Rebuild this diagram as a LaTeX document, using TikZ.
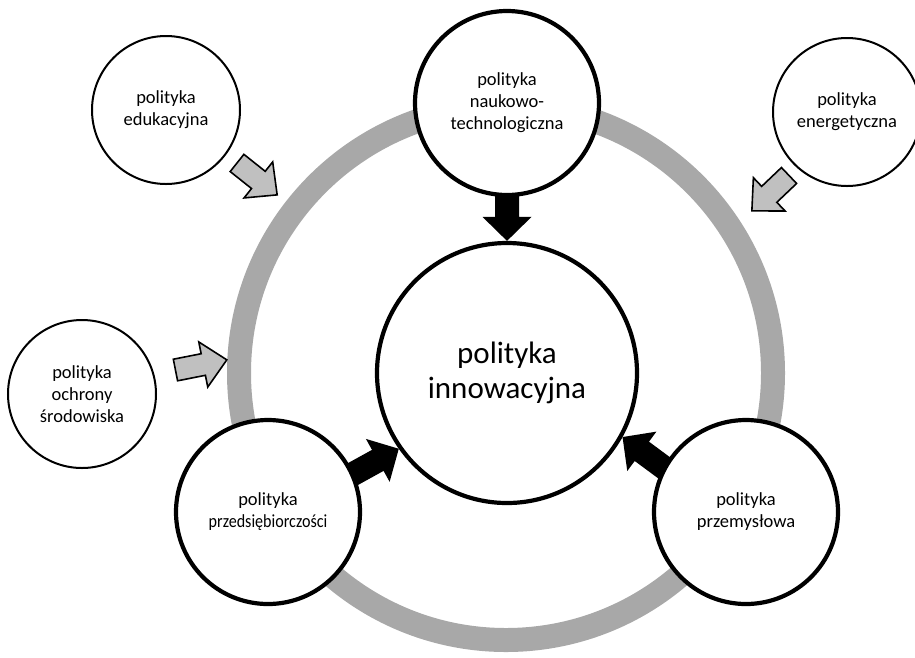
\documentclass[tikz,border=0pt]{standalone}
\usepackage{fontspec}
\setmainfont{Carlito}
\usepackage{graphicx}
\usetikzlibrary{calc,backgrounds}
\definecolor{ringgray}{RGB}{168,168,168}
\definecolor{arrowgray}{RGB}{192,192,192}
% block arrow: [style]{from}{to}{half shaft}{half head}
\newcommand{\blockarrow}[5][]{%
  \path[#1] let \p1=($(#3)-(#2)$), \n1={atan2(\y1,\x1)}, \n2={veclen(\x1,\y1)-24pt} in
    ($(#2)+(\n1+90:#4)$) -- ($(#2)+(\n1:\n2)+(\n1+90:#4)$)
    -- ($(#2)+(\n1:\n2)+(\n1+90:#5)$) -- (#3)
    -- ($(#2)+(\n1:\n2)+(\n1-90:#5)$) -- ($(#2)+(\n1:\n2)+(\n1-90:#4)$)
    -- ($(#2)+(\n1-90:#4)$) -- cycle;}

\begin{document}
\begin{tikzpicture}[x=1pt, y=1pt,
   politics/.style={circle, draw, fill=white, inner sep=0pt, align=center,
     font=\fontsize{18.5}{22}\selectfont},
   corepol/.style={politics, line width=4.2pt, minimum size=184pt},
   sidepol/.style={politics, line width=2pt, minimum size=148pt},
   cyclering/.style={circle, draw=ringgray, line width=24pt, minimum size=534pt, inner sep=0pt},
   blackarr/.style={fill=black},
   grayarr/.style={fill=arrowgray, draw=black, line width=1.6pt, line join=miter}]
  \useasboundingbox (0,0) rectangle (915,-657);
  % main policy in the middle
  \node[politics, line width=4.2pt, minimum size=260pt, font=\fontsize{31}{35}\selectfont]
    (innov) at (507,-373) {polityka\\innowacyjna};
  % policies on the cycle
  \node[corepol] (nauk) at (507,-103) {polityka\\naukowo-\\technologiczna};
  \node[corepol] (przed) at (268,-512) {polityka\\\scalebox{0.87}[1]{przedsiębiorczości}};
  \node[corepol] (przem) at (746,-512) {polityka\\przemysłowa};
  % outside policies
  \node[sidepol] (eduk) at (166,-110) {polityka\\edukacyjna};
  \node[sidepol] (energ) at (847,-112) {polityka\\energetyczna};
  \node[sidepol] (ochr) at (82,-394) {polityka\\ochrony\\środowiska};

  \begin{scope}[on background layer]
    \node[cyclering] (ring) at (506,-373) {};
    \coordinate (przed-in) at ($(przed)+(9pt,-4pt)$);
    \coordinate (przem-in) at ($(przem)+(-10pt,-9pt)$);
    \blockarrow[blackarr]{nauk}{innov.north}{12pt}{24.5pt}
    \blockarrow[blackarr]{przed-in}{innov.215}{12pt}{24.5pt}
    \blockarrow[blackarr]{przem-in}{innov.-29.5}{12pt}{24.5pt}
    % influence from outside
    \coordinate (eduk-out) at ($(eduk)+(-36.7:88.6pt)$);
    \coordinate (eduk-in) at ($(ring)+(142.1:290pt)$);
    \coordinate (energ-out) at ($(energ)+(227.6:86pt)$);
    \coordinate (energ-in) at ($(ring)+(33.4:294.5pt)$);
    \coordinate (ochr-out) at ($(ochr)+(14.4:96.5pt)$);
    \coordinate (ochr-in) at ($(ring)+(177.3:279.5pt)$);
    \blockarrow[grayarr]{eduk-out}{eduk-in}{11pt}{23pt}
    \blockarrow[grayarr]{energ-out}{energ-in}{11pt}{23pt}
    \blockarrow[grayarr]{ochr-out}{ochr-in}{11pt}{23pt}
  \end{scope}
\end{tikzpicture}
\end{document}
